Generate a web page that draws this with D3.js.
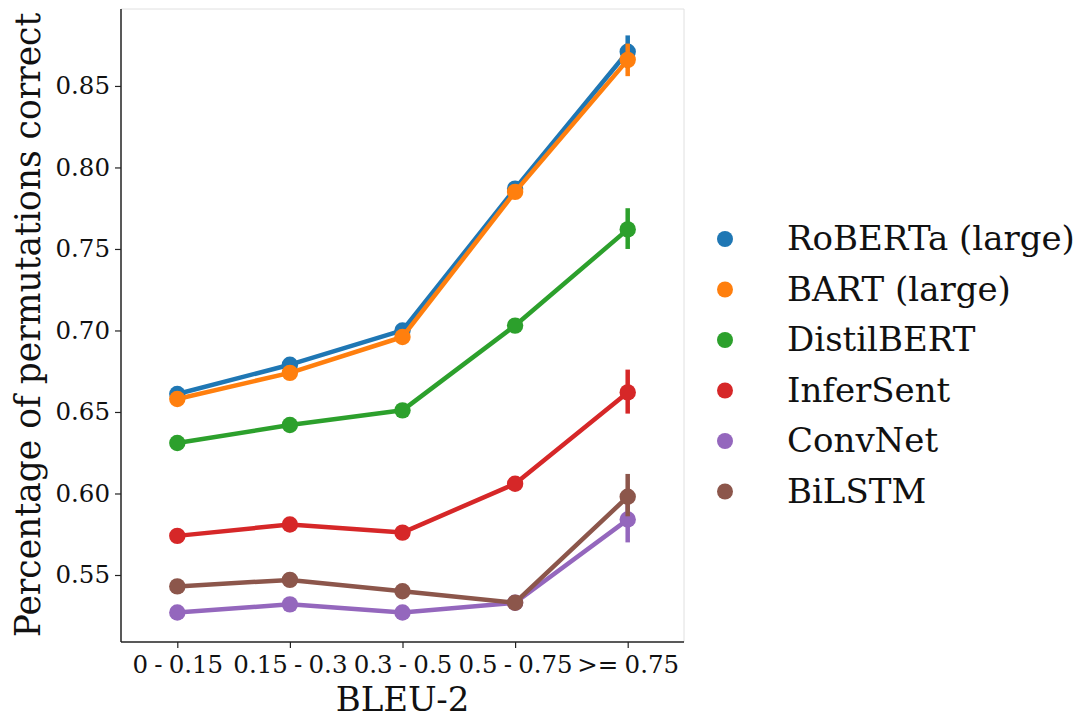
<!DOCTYPE html>
<html><head><meta charset="utf-8">
<script src="https://cdn.jsdelivr.net/npm/d3@7"></script>
<style>body{margin:0;background:#fff}svg{display:block}text{font-family:"DejaVu Serif",serif;fill:#111}</style>
</head><body>
<svg id="c" width="1078" height="717"></svg>
<script>
const categories = ["0 - 0.15", "0.15 - 0.3", "0.3 - 0.5", "0.5 - 0.75", ">= 0.75"];
const seriesNames = ["RoBERTa (large)", "BART (large)", "DistilBERT", "InferSent", "ConvNet", "BiLSTM"];
const colors = ["#1f77b4", "#ff7f0e", "#2ca02c", "#d62728", "#9467bd", "#8c564b"];
const roberta = [0.661, 0.679, 0.700, 0.787, 0.871];
const bart = [0.658, 0.674, 0.696, 0.785, 0.866];
const distilbert = [0.631, 0.642, 0.651, 0.703, 0.762];
const infersent = [0.574, 0.581, 0.576, 0.606, 0.662];
const convnet = [0.527, 0.532, 0.527, 0.533, 0.584];
const bilstm = [0.543, 0.547, 0.540, 0.533, 0.598];
const robertaErr = [[0.659, 0.663], [0.677, 0.681], [0.698, 0.702], [0.785, 0.789], [0.861, 0.881]];
const bartErr = [[0.656, 0.660], [0.672, 0.676], [0.694, 0.698], [0.783, 0.787], [0.856, 0.876]];
const distilbertErr = [[0.629, 0.633], [0.640, 0.644], [0.649, 0.653], [0.701, 0.705], [0.750, 0.775]];
const infersentErr = [[0.572, 0.576], [0.579, 0.583], [0.574, 0.578], [0.604, 0.608], [0.649, 0.676]];
const convnetErr = [[0.525, 0.529], [0.530, 0.534], [0.525, 0.529], [0.531, 0.535], [0.570, 0.599]];
const bilstmErr = [[0.541, 0.545], [0.545, 0.549], [0.538, 0.542], [0.531, 0.535], [0.586, 0.612]];
const yTicks = [0.55, 0.60, 0.65, 0.70, 0.75, 0.80, 0.85];

const series = [
  {name: seriesNames[0], values: roberta, err: robertaErr, color: colors[0]},
  {name: seriesNames[1], values: bart, err: bartErr, color: colors[1]},
  {name: seriesNames[2], values: distilbert, err: distilbertErr, color: colors[2]},
  {name: seriesNames[3], values: infersent, err: infersentErr, color: colors[3]},
  {name: seriesNames[4], values: convnet, err: convnetErr, color: colors[4]},
  {name: seriesNames[5], values: bilstm, err: bilstmErr, color: colors[5]}
];

const svg = d3.select("#c");
const L = 121, R = 684, T = 9, B = 642;
const x = d3.scalePoint().domain(categories).range([L, R]).padding(0.5);
const y = d3.scaleLinear().domain([0.5089, 0.8972]).range([B, T]);

// light frame (top/right)
svg.append("path").attr("d", `M${L},${T}H${R}V${B}`).attr("fill", "none").attr("stroke", "#e0e0e0").attr("stroke-width", 1);

const fmt = d3.format(".2f");
const yAxis = svg.append("g").attr("transform", `translate(${L},0)`)
  .call(d3.axisLeft(y).tickValues(yTicks).tickFormat(fmt).tickSize(6).tickPadding(5));
const xAxis = svg.append("g").attr("transform", `translate(0,${B})`)
  .call(d3.axisBottom(x).tickSize(6).tickPadding(8));
[yAxis, xAxis].forEach(g => {
  g.select(".domain").attr("stroke", "#222").attr("stroke-width", 1.5);
  g.selectAll(".tick line").attr("stroke", "#222").attr("stroke-width", 1.2);
  g.selectAll(".tick text").style("font-family", "DejaVu Serif").style("font-size", "24.5px").attr("fill", "#111");
});
xAxis.selectAll(".tick text").style("word-spacing", "-1.6px");
xAxis.select(".domain").attr("d", `M${L},0H${R}`);
yAxis.select(".domain").attr("d", `M0,${B}V${T}`);

const line = d3.line().x((d, i) => x(categories[i])).y(d => y(d));
series.forEach(s => {
  const g = svg.append("g");
  g.append("path").attr("d", line(s.values)).attr("fill", "none").attr("stroke", s.color).attr("stroke-width", 4.5).attr("stroke-linejoin", "round");
  g.selectAll("line.err").data(s.err).enter().append("line")
    .attr("x1", (d, i) => x(categories[i])).attr("x2", (d, i) => x(categories[i]))
    .attr("y1", d => y(d[0])).attr("y2", d => y(d[1]))
    .attr("stroke", s.color).attr("stroke-width", 4.5);
  g.selectAll("circle").data(s.values).enter().append("circle")
    .attr("cx", (d, i) => x(categories[i])).attr("cy", d => y(d)).attr("r", 8.2).attr("fill", s.color);
});

// axis labels
svg.append("text").attr("x", (L + R) / 2).attr("y", 711).attr("text-anchor", "middle").style("font-size", "34px").text("BLEU-2");
svg.append("text").attr("transform", `translate(40,325) rotate(-90)`).attr("text-anchor", "middle").style("font-size", "34.5px").text("Percentage of permutations correct");

// legend
const lg = svg.append("g");
series.forEach((s, i) => {
  const yy = 239 + i * 50.5;
  lg.append("circle").attr("cx", 725).attr("cy", yy).attr("r", 8).attr("fill", s.color);
  lg.append("text").attr("x", 787).attr("y", yy + 11).style("font-size", "34px").text(s.name);
});
</script>
</body></html>
